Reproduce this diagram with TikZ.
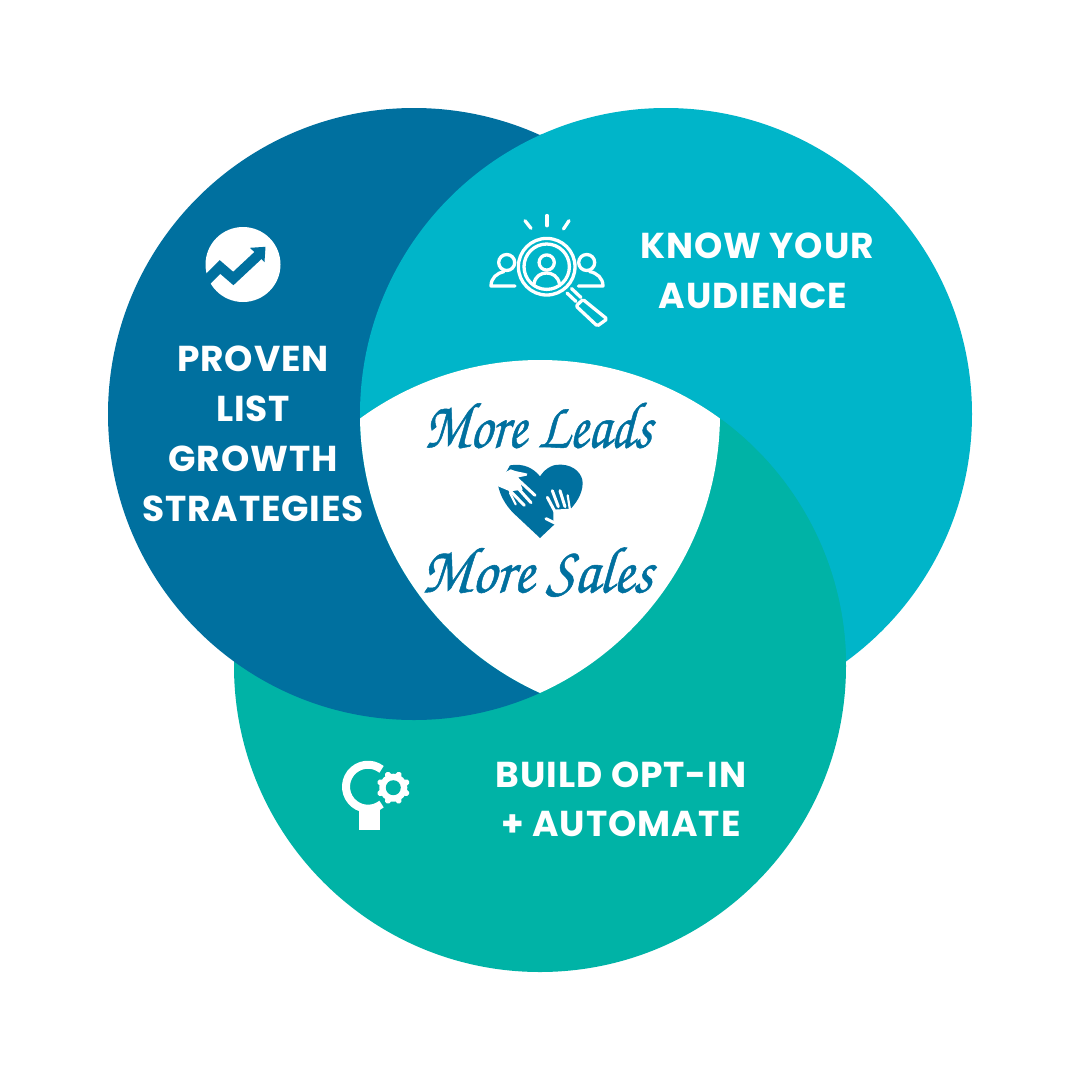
\documentclass[tikz,border=0pt]{standalone}
\usepackage{fontspec}
\newfontfamily\headfont[LetterSpace=2.5]{Poppins}
\definecolor{deepblue}{HTML}{00709F}
\definecolor{aqua}{HTML}{00B5C9}
\definecolor{seagreen}{HTML}{00B3A6}
\newcommand{\inkheavy}[1]{\special{pdf:code 2 Tr 0.55 w}#1\special{pdf:code 0 Tr 1 w}}
\tikzset{
  headline/.style={text=white,anchor=base,inner sep=0pt,font=\fontsize{36}{36}\selectfont\headfont\bfseries},
  brush/.style={text=deepblue,inner sep=0pt,xscale=#1,xslant=0.08,transform shape,font=\fontsize{66}{66}\usefont{OT1}{pzc}{mb}{it}},
  icon/.style={draw=white,line width=3.3pt,line cap=round,line join=round,fill=none},
  finger/.style={draw=white,line cap=round,line width=3pt}
}
\begin{document}
\begin{tikzpicture}[x=1pt,y=-1pt]
\useasboundingbox (0,0) rectangle (1080,1080);
\fill[white] (0,0) rectangle (1080,1080);
% three overlapping circles, each one over the next in a ring
\fill[aqua] (666,414) circle[radius=306pt];
\fill[seagreen] (540,666) circle[radius=306pt];
\fill[deepblue] (414,414) circle[radius=306pt];
\begin{scope}
  \clip (414,414) circle[radius=308pt];
  \clip (666,414) circle[radius=306pt];
  \fill[aqua] (300,100) rectangle (1000,800);
\end{scope}
\begin{scope}
  \clip (666,414) circle[radius=306pt];
  \fill[seagreen] (540,666) circle[radius=306pt];
\end{scope}
\begin{scope}
  \clip (414,414) circle[radius=306pt];
  \clip (666,414) circle[radius=306pt];
  \fill[white] (540,666) circle[radius=306pt];
\end{scope}
% left circle text and trend icon
\node[headline] (p1) at (253,371.5) {PROVEN};
\node[headline] (p2) at (253,421.5) {LIST};
\node[headline] (p3) at (253,471.5) {GROWTH};
\node[headline] (p4) at (253,521.5) {STRATEGIES};
\fill[white] (243,264.5) circle[radius=37.5pt];
\draw[deepblue,line width=10pt,line join=miter] (200,287) -- (220,267) -- (233.3,278.5) -- (259,254.5);
\fill[deepblue] (250,247.8) -- (265.5,246.8) -- (264.5,262) -- cycle;
% right circle text and audience icon
\node[headline] (k1) at (757,258.5) {KNOW YOUR};
\node[headline] (k2) at (753,308.5) {AUDIENCE};
\begin{scope}[icon]
  \draw (546.7,266.7) circle[radius=28.3pt];
  \draw (546.7,266.7) circle[radius=22.7pt];
  \draw (546.7,262.5) circle[radius=7.6pt];
  \draw (534,284) .. controls (535,276) and (541,273) .. (546.7,273) .. controls (552,273) and (558,276) .. (559.5,284);
  \draw (506.7,262.5) circle[radius=8pt];
  \draw (586.7,262.5) circle[radius=8pt];
  \draw (515,286) -- (491,286) .. controls (491,278) and (497,273) .. (504,271.5);
  \draw (578.4,286) -- (603,286) .. controls (603,278) and (597,273) .. (589.5,271.5);
  \draw (525,220.7) -- (531,228.3);
  \draw (547,215.5) -- (547,225.7);
  \draw (569,220.7) -- (563.5,229);
  \draw (571.5,288.5) -- (581,297.5);
  \draw (567,293) -- (576,301.5);
  \draw[rounded corners=1.5pt] (583,299.5) -- (607,319) -- (597.3,326) -- (576,306) -- cycle;
\end{scope}
% centre
\node[brush=0.82] (leads) at (539,424) {\inkheavy{More Leads}};
\node[brush=0.9] (sales) at (538,571) {\inkheavy{More Sales}};
\begin{scope}[shift={(490,458)},x=0.3333pt,y=-0.3333pt]
  \fill[deepblue] (150,240) -- (70,165) .. controls (45,140) and (30,110) .. (25,85)
    -- (60,22) .. controls (100,15) and (130,30) .. (150,55)
    .. controls (170,25) and (195,18) .. (215,20)
    .. controls (255,22) and (278,50) .. (278,75)
    .. controls (278,110) and (255,140) .. (235,160) -- (150,240) -- cycle;
  % left hand
  \fill[white] (15,60) -- (62,34) .. controls (80,42) and (95,42) .. (112,47) -- (110,53) -- (85,58)
    -- (98,95) -- (60,100) -- (22,84) -- cycle;
  \draw[finger] (80,61) -- (135,112);
  \draw[finger] (80,86) -- (123,134);
  \draw[finger] (60,98) -- (103,142);
  \draw[finger,line width=2.2pt] (60,105) -- (77,139);
  % right hand
  \draw[finger] (172,118) -- (195,161);
  \draw[finger] (187,98) -- (205,146);
  \draw[finger] (210,98) -- (225,146);
  \draw[finger,line width=2.2pt] (233,112) -- (240,156);
  \draw[finger] (168,182) -- (198,197);
  \fill[white] (190,155) -- (243,152) -- (310,170) -- (300,250) -- (165,250) -- (205,212) -- (190,190) -- cycle;
\end{scope}
% bottom circle text and bulb icon
\node[headline] (b1) at (621,787) {BUILD OPT-IN};
\node[headline] (b2) at (621,836) {+ AUTOMATE};
\draw[white,line width=8pt] (368,786.7) ++(52:22pt) arc[start angle=52,end angle=308,radius=22pt];
\fill[white] (359.3,809) rectangle (380,830);
\fill[white] (393.3,787.7) circle[radius=14pt];
\foreach \a in {0,45,...,315}
  \draw[white,line width=6pt,line cap=round,line join=round] (393.3,787.7) ++(\a+22.5:11pt) -- ++(\a+22.5:3pt);
\fill[seagreen] (393.3,787.7) circle[radius=7.5pt];
\end{tikzpicture}
\end{document}
